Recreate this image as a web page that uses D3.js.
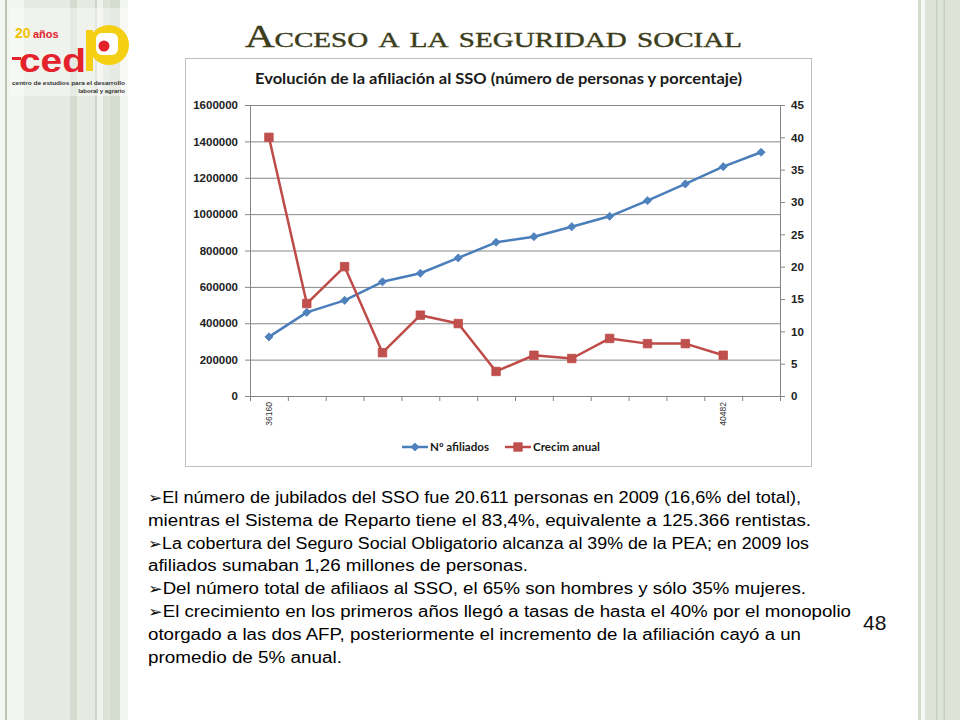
<!DOCTYPE html>
<html><head><meta charset="utf-8">
<script src="https://cdn.jsdelivr.net/npm/d3@7"></script>
<style>html,body{margin:0;padding:0;background:#fff;}svg{display:block;}</style>
</head><body>
<svg id="c" width="960" height="720"></svg>
<script>
// ---- data ----
const categories = d3.range(1, 15);                 // 14 periods
const tickLabels = ["36160","","","","","","","","","","","","40482",""];
const afiliados = [325000, 460000, 526000, 628000, 675000, 759000, 845000, 876000, 931000, 988000, 1074000, 1166000, 1261000, 1340000];
const crecimAnual = [40.0, 14.3, 20.0, 6.7, 12.5, 11.2, 3.8, 6.3, 5.8, 8.9, 8.1, 8.1, 6.3];
const leftTicks = [0,200000,400000,600000,800000,1000000,1200000,1400000,1600000];
const rightTicks = [0,5,10,15,20,25,30,35,40,45];
const seriesNames = ["Nº afiliados","Crecim anual"];
const chartTitle = "Evolución de la afiliación al SSO (número de personas y porcentaje)";
const bodyLines = [
  {b:true,  t:"El número de jubilados del SSO fue 20.611 personas en 2009 (16,6% del total),", w:653},
  {b:false, t:"mientras el Sistema de Reparto tiene el 83,4%, equivalente a 125.366 rentistas.", w:663},
  {b:true,  t:"La cobertura del Seguro Social Obligatorio alcanza al 39% de la PEA; en 2009 los", w:661},
  {b:false, t:"afiliados sumaban 1,26 millones de personas.", w:380},
  {b:true,  t:"Del número total de afiliaos al SSO, el 65% son hombres y sólo 35% mujeres.", w:658},
  {b:true,  t:"El crecimiento en los primeros años llegó a tasas de hasta el 40% por el monopolio", w:703},
  {b:false, t:"otorgado a las dos AFP, posteriormente el incremento de la afiliación cayó a un", w:653},
  {b:false, t:"promedio de 5% anual.", w:194}
];

const svg = d3.select("#c");

// ---- decorative strips ----
const leftBands = [[0,5,"#f4f6f2"],[5,7,"#bcc6b7"],[7,24,"#f1f4ef"],[24,70,"#e6eae3"],[70,77,"#d4dccf"],[77,95,"#e6eae3"],[95,97,"#cdd6c8"],[97,103,"#eef1ec"],[103,110,"#dde3d9"],[110,120,"#d5ddd0"],[120,128,"#f3f5f1"]];
const rightBands = [[918,921,"#d3dbcc"],[921,925,"#f5f7f3"],[925,960,"#dde4d7"],[936,937.5,"#c6d0c0"],[943.5,945,"#c6d0c0"]];
svg.selectAll("rect.lb").data(leftBands.concat(rightBands)).join("rect")
  .attr("x",d=>d[0]).attr("width",d=>d[1]-d[0]).attr("y",0).attr("height",720).attr("fill",d=>d[2]);

// ---- logo ----
const logo = svg.append("g");
logo.append("rect").attr("x",10).attr("y",8).attr("width",118).attr("height",88).attr("fill","#fff").attr("opacity",0.4);
logo.append("circle").attr("cx",109).attr("cy",45).attr("r",20).attr("fill","#f5cf14");
logo.append("rect").attr("x",86).attr("y",30).attr("width",7).attr("height",41).attr("fill","#f5cf14");
logo.append("rect").attr("x",96).attr("y",33).attr("width",22).attr("height",22).attr("rx",6).attr("fill","#fff");
logo.append("circle").attr("cx",104).attr("cy",46).attr("r",5.5).attr("fill","#e3222b");
logo.append("text").attr("x",15).attr("y",38).attr("font-family","Liberation Sans").attr("font-weight","bold").attr("font-size",14).attr("fill","#f2c200").text("20");
logo.append("text").attr("x",33).attr("y",38).attr("font-family","Liberation Sans").attr("font-weight","bold").attr("font-size",11).attr("fill","#e3222b").text("años");
logo.append("rect").attr("x",12).attr("y",57).attr("width",9).attr("height",3).attr("fill","#e3222b");
logo.append("text").attr("x",19).attr("y",72).attr("font-family","Liberation Sans").attr("font-weight","bold").attr("font-size",34).attr("fill","#e3222b").attr("textLength",67).attr("lengthAdjust","spacingAndGlyphs").text("ced");
logo.append("text").attr("x",12).attr("y",85).attr("font-family","Liberation Sans").attr("font-weight","bold").attr("font-size",6).attr("fill","#333").attr("textLength",113).attr("lengthAdjust","spacingAndGlyphs").text("centro de estudios para el desarrollo");
logo.append("text").attr("x",125).attr("y",92.5).attr("text-anchor","end").attr("font-family","Liberation Sans").attr("font-weight","bold").attr("font-size",6).attr("fill","#333").text("laboral y agrario");

// ---- slide title ----
const st = svg.append("text").attr("x",245).attr("y",47).attr("font-family","Liberation Serif")
  .attr("fill","#3c3d1a").attr("stroke","#3c3d1a").attr("stroke-width",0.4).attr("font-size",31).attr("textLength",497).attr("lengthAdjust","spacingAndGlyphs");
st.append("tspan").text("A");
st.append("tspan").attr("font-variant","small-caps").text("cceso a la seguridad social");

// ---- chart box ----
svg.append("rect").attr("x",185.5).attr("y",58.5).attr("width",626).attr("height",408).attr("fill","#fff").attr("stroke","#bfbfbf");

svg.append("text").attr("x",255).attr("y",84).attr("font-family","Lato").attr("font-weight","bold").attr("font-size",15)
  .attr("fill","#1a1a1a").attr("textLength",487).attr("lengthAdjust","spacingAndGlyphs").text(chartTitle);

const L = 250, R = 780, T = 105, B = 396;
const x = d3.scaleBand().domain(categories).range([L,R]);
const xb = d3.scaleLinear().domain([0,categories.length]).range([L,R]);
const yL = d3.scaleLinear().domain([0,1600000]).range([B,T]);
const yR = d3.scaleLinear().domain([0,45]).range([B,T]);

// gridlines
const grid = svg.append("g").attr("transform",`translate(${L},0)`)
  .call(d3.axisLeft(yL).tickValues(leftTicks.slice(1)).tickSize(-(R-L)).tickFormat(""));
grid.select(".domain").remove();
grid.selectAll("line").attr("stroke","#878787");

const axFont = g => g.selectAll("text").attr("font-family","Liberation Sans").attr("font-weight","bold").attr("font-size",11.5).attr("fill","#222");

const gl = svg.append("g").attr("transform",`translate(${L},0)`)
  .call(d3.axisLeft(yL).tickValues(leftTicks).tickSize(5).tickPadding(7).tickFormat(d3.format("d")).tickSizeOuter(0));
gl.call(axFont); gl.selectAll("line,path").attr("stroke","#868686");

const gr = svg.append("g").attr("transform",`translate(${R},0)`)
  .call(d3.axisRight(yR).tickValues(rightTicks).tickSize(5).tickPadding(6).tickSizeOuter(0));
gr.call(axFont); gr.selectAll("line,path").attr("stroke","#868686");

const gb = svg.append("g").attr("transform",`translate(0,${B})`)
  .call(d3.axisBottom(xb).tickValues(d3.range(categories.length+1)).tickSize(5).tickFormat("").tickSizeOuter(0));
gb.selectAll("line,path").attr("stroke","#868686");

svg.append("g").selectAll("text").data(categories).join("text")
  .attr("transform",d=>`translate(${x(d)+x.bandwidth()/2+3},402) rotate(-90)`)
  .attr("text-anchor","end").attr("font-family","Liberation Sans").attr("font-size",8.5).attr("fill","#333")
  .text((d,i)=>tickLabels[i]);

// series
const blue = "#4a7ebb", blueM = "#4f81bd", red = "#be4b48", redM = "#c0504d";
const cx = i => x(categories[i]) + x.bandwidth()/2;
svg.append("path").datum(afiliados).attr("fill","none").attr("stroke",blue).attr("stroke-width",2.5).attr("stroke-linejoin","round")
  .attr("d",d3.line().x((d,i)=>cx(i)).y(d=>yL(d)));
svg.append("path").datum(crecimAnual).attr("fill","none").attr("stroke",red).attr("stroke-width",2.5).attr("stroke-linejoin","round")
  .attr("d",d3.line().x((d,i)=>cx(i)).y(d=>yR(d)));
const diamond = d3.symbol().type(d3.symbolDiamond2).size(42);
const square = d3.symbol().type(d3.symbolSquare).size(72);
svg.append("g").selectAll("path").data(afiliados).join("path")
  .attr("transform",(d,i)=>`translate(${cx(i)},${yL(d)})`).attr("d",diamond).attr("fill",blueM).attr("stroke",blue).attr("stroke-width",0.8);
svg.append("g").selectAll("path").data(crecimAnual).join("path")
  .attr("transform",(d,i)=>`translate(${cx(i)},${yR(d)})`).attr("d",square).attr("fill",redM).attr("stroke",red).attr("stroke-width",0.8);

// legend
const lg = svg.append("g");
const legendItems = [{n:seriesNames[0],x:402,c:blue,m:blueM,s:diamond,tw:59},{n:seriesNames[1],x:505,c:red,m:redM,s:square,tw:67}];
legendItems.forEach(it=>{
  lg.append("line").attr("x1",it.x).attr("x2",it.x+26).attr("y1",447).attr("y2",447).attr("stroke",it.c).attr("stroke-width",2.5);
  lg.append("path").attr("transform",`translate(${it.x+13},447)`).attr("d",it.s).attr("fill",it.m).attr("stroke",it.c).attr("stroke-width",0.8);
  lg.append("text").attr("x",it.x+28).attr("y",451).attr("font-family","Lato").attr("font-weight","bold").attr("font-size",11.5)
    .attr("fill","#1a1a1a").attr("textLength",it.tw).attr("lengthAdjust","spacingAndGlyphs").text(it.n);
});

// body text
const tb = svg.append("g").attr("font-family","Liberation Sans").attr("font-size",16).attr("fill","#000");
bodyLines.forEach((ln,i)=>{
  const t = tb.append("text").attr("x",148).attr("y",503+i*22.8).attr("textLength",ln.w).attr("lengthAdjust","spacingAndGlyphs");
  if (ln.b) t.append("tspan").attr("font-family","DejaVu Sans").attr("font-size",15).text("➢");
  t.append("tspan").text(ln.t);
});
svg.append("text").attr("x",863).attr("y",630).attr("font-family","Liberation Sans").attr("font-size",21).attr("fill","#111").text("48");
</script>
</body></html>
